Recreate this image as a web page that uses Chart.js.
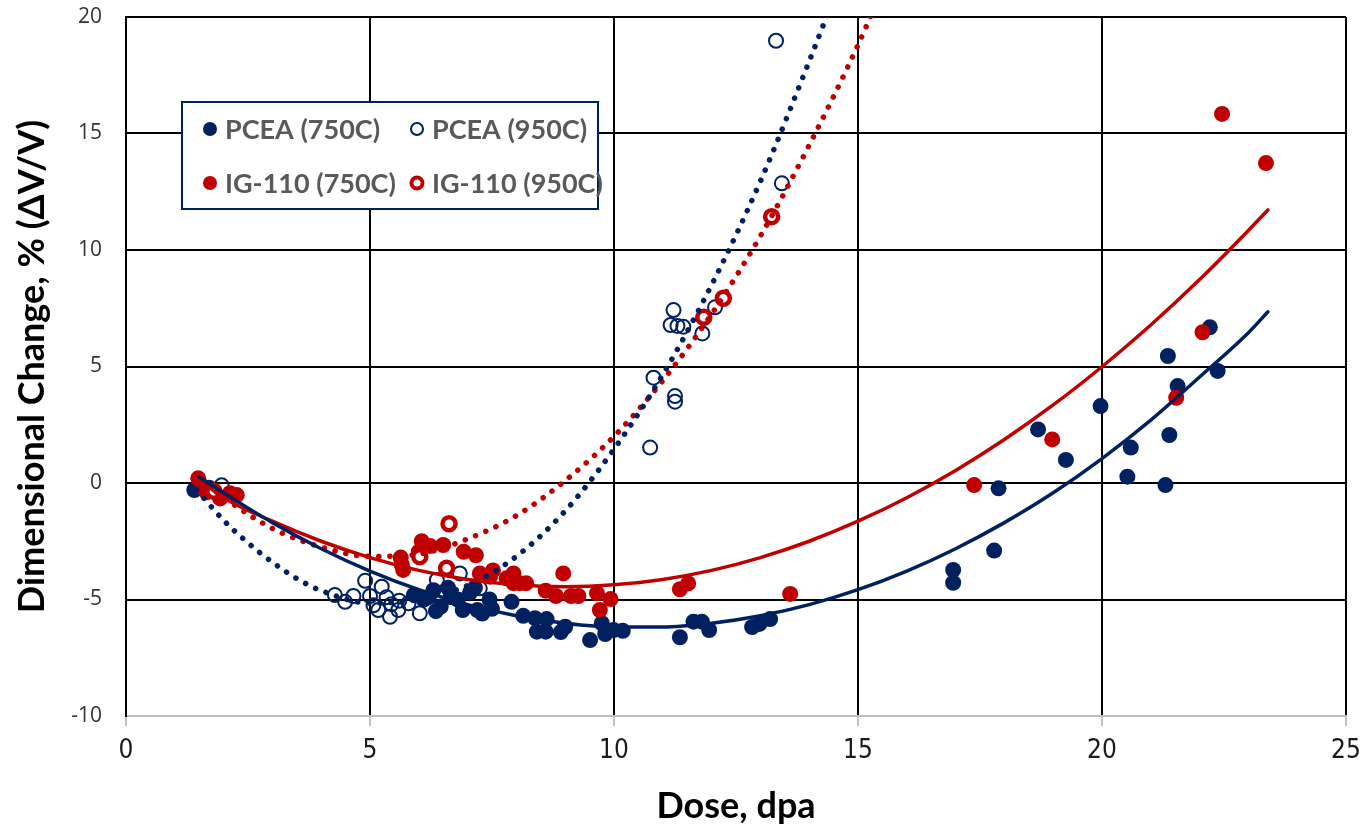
<!DOCTYPE html>
<html>
<head>
<meta charset="utf-8">
<title>Dimensional Change vs Dose</title>
<script src="https://cdn.jsdelivr.net/npm/chart.js@4.4.1/dist/chart.umd.min.js"></script>
<style>
  html, body { margin: 0; padding: 0; background: #fff; }
  #wrap { width: 1360px; height: 828px; }
</style>
</head>
<body>
<div id="wrap"><canvas id="graficoDim" width="1360" height="828"></canvas></div>
<script>
// ==================== DATA ====================
// [dose (dpa), dimensional change (%)]
const pcea750 = [
  [1.4, -0.3], [1.5, -0.1],
  [5.9, -4.8], [6.1, -5.0], [6.2, -4.9], [6.3, -4.6], [6.35, -5.5], [6.45, -5.3], [6.6, -4.5],
  [6.65, -4.9], [6.8, -5.0], [6.9, -5.45], [7.05, -4.7], [7.15, -4.5], [7.2, -5.45], [7.3, -5.6],
  [7.45, -5.0], [7.5, -5.4], [7.9, -5.1],
  [8.14, -5.7], [8.38, -5.8], [8.62, -5.84], [8.42, -6.38], [8.6, -6.38], [8.91, -6.4], [9.0, -6.17],
  [9.51, -6.74], [9.75, -6.02], [9.82, -6.48], [9.99, -6.31], [10.18, -6.34], [11.35, -6.62],
  [11.63, -5.95], [11.8, -5.95], [11.95, -6.31], [12.83, -6.18], [12.98, -6.05], [13.2, -5.84],
  [16.95, -3.73], [16.95, -4.28], [17.79, -2.9], [17.88, -0.23], [18.69, 2.3], [19.26, 0.99],
  [19.97, 3.3], [20.52, 0.27], [20.59, 1.52], [21.3, -0.09], [21.35, 5.45], [21.38, 2.06],
  [21.55, 4.16], [22.21, 6.68], [22.37, 4.81]
];
const pcea950 = [
  [1.7, -0.2], [1.96, -0.1],
  [4.28, -4.81], [4.49, -5.1], [4.66, -4.85], [4.9, -4.2], [5.0, -4.85], [5.07, -5.25], [5.17, -5.45],
  [5.24, -4.45], [5.34, -4.9], [5.41, -5.74], [5.44, -5.2], [5.58, -5.45], [5.6, -5.05], [5.79, -5.16],
  [6.02, -5.59], [6.37, -4.16], [6.84, -3.88], [7.25, -4.52],
  [10.74, 1.52], [10.81, 4.52], [11.16, 6.78], [11.22, 7.42], [11.25, 3.73], [11.25, 3.49],
  [11.3, 6.74], [11.42, 6.71], [11.81, 6.42], [12.07, 7.54], [13.32, 18.98], [13.44, 12.86]
];
const ig750 = [
  [1.48, 0.2], [1.58, -0.16], [1.65, -0.4], [1.79, -0.37], [1.93, -0.66], [2.13, -0.44], [2.27, -0.52],
  [5.63, -3.2], [5.65, -3.5], [5.68, -3.73], [6.0, -2.95], [6.06, -2.5], [6.23, -2.7], [6.5, -2.66],
  [6.92, -2.95], [7.17, -3.1], [7.25, -3.88], [7.46, -4.02], [7.52, -3.75], [7.8, -4.09], [7.87, -4.09],
  [7.94, -4.3], [7.94, -3.88], [8.07, -4.3], [8.2, -4.3],
  [8.6, -4.62], [8.81, -4.85], [8.96, -3.88], [9.12, -4.85], [9.27, -4.85], [9.65, -4.73], [9.71, -5.45],
  [9.93, -4.98], [11.35, -4.56], [11.52, -4.31], [13.61, -4.76],
  [17.38, -0.09], [18.98, 1.87], [21.52, 3.66], [22.06, 6.47], [22.46, 15.84], [23.36, 13.73]
];
const ig950 = [
  [1.8, -0.35], [6.02, -3.16], [6.57, -3.66], [6.62, -1.75], [11.84, 7.11], [12.24, 7.93], [13.23, 11.43]
];

// trend curves
const pcea750Trend = [
  [1.5, 0.25], [2, -0.42], [3, -1.7], [4, -2.82], [5, -3.78], [6, -4.58], [7, -5.22], [8, -5.7],
  [9, -6.02], [10, -6.18], [11, -6.18], [12, -6.02], [13, -5.7], [14, -5.22], [15, -4.58], [16, -3.78],
  [17, -2.82], [18, -1.7], [19, -0.42], [20, 1.05], [21, 2.7], [22, 4.55], [23, 6.45], [23.4, 7.35]
];
const ig750Trend = [
  [1.5, 0.15], [2, -0.63], [3, -1.64], [4, -2.5], [5, -3.2], [6, -3.75], [7, -4.14], [8, -4.37],
  [9, -4.45], [10, -4.37], [11, -4.14], [12, -3.75], [13, -3.2], [14, -2.5], [15, -1.64], [16, -0.63],
  [17, 0.54], [18, 1.87], [19, 3.35], [20, 4.99], [21, 6.78], [22, 8.73], [23, 10.84], [23.4, 11.72]
];
const pcea950Trend = [
  [1.45, -0.3], [2, -1.6], [2.5, -2.57], [3, -3.4], [3.5, -4.1], [4, -4.62], [5, -5.15], [6, -5.0],
  [7, -4.4], [8, -3.15], [9, -1.2], [10, 1.45], [11, 4.65], [12, 8.5], [13, 12.95], [14, 18.1], [14.5, 20.8]
];
const ig950Trend = [
  [1.5, 0.2], [2, -0.62], [3, -1.95], [4, -2.75], [5, -3.15], [6, -3.05], [7, -2.4], [8, -1.4],
  [9, 0.1], [10, 2.0], [11, 4.4], [12, 7.25], [13, 10.6], [14, 14.5], [15, 18.8], [15.5, 21.2]
];

const xTicks = [0, 5, 10, 15, 20, 25];
const yTicks = [-10, -5, 0, 5, 10, 15, 20];

const NAVY = '#002060';
const RED = '#C00000';

function toPts(arr) {
  return arr.map(p => ({ x: p[0], y: p[1] }));
}

// ==================== LEGEND (2 x 2 boxed) ====================
const leyendaPlugin = {
  id: 'leyenda',
  afterDatasetsDraw(chart) {
    const ctx = chart.ctx;
    const box = { x: 182, y: 102, w: 416, h: 107 };
    ctx.save();
    ctx.fillStyle = '#ffffff';
    ctx.fillRect(box.x, box.y, box.w, box.h);
    ctx.strokeStyle = NAVY;
    ctx.lineWidth = 2;
    ctx.strokeRect(box.x, box.y, box.w, box.h);

    const items = [
      { label: 'PCEA (750C)', x: 210, y: 129, fill: NAVY, stroke: NAVY, r: 7, bw: 0 },
      { label: 'PCEA (950C)', x: 417, y: 129, fill: '#ffffff', stroke: NAVY, r: 6, bw: 2 },
      { label: 'IG-110 (750C)', x: 210, y: 183, fill: RED, stroke: RED, r: 7, bw: 0 },
      { label: 'IG-110 (950C)', x: 417, y: 183, fill: '#ffffff', stroke: RED, r: 5.5, bw: 4 }
    ];
    ctx.font = 'bold 27px Lato, "Open Sans", sans-serif';
    ctx.textBaseline = 'middle';
    items.forEach(it => {
      ctx.beginPath();
      ctx.arc(it.x, it.y, it.r, 0, Math.PI * 2);
      ctx.fillStyle = it.fill;
      ctx.fill();
      if (it.bw > 0) {
        ctx.lineWidth = it.bw;
        ctx.strokeStyle = it.stroke;
        ctx.stroke();
      }
      ctx.fillStyle = '#595959';
      ctx.fillText(it.label, it.x + 15, it.y + 1);
    });
    ctx.restore();
  }
};

// ==================== DATASETS ====================
function puntos(label, data, color, relleno, radio, borde, orden) {
  return {
    type: 'scatter',
    label: label,
    data: toPts(data),
    pointRadius: radio,
    pointHoverRadius: radio,
    pointBackgroundColor: relleno,
    pointBorderColor: color,
    pointBorderWidth: borde,
    showLine: false,
    order: orden
  };
}

function tendencia(data, color, punteada) {
  return {
    type: 'line',
    data: toPts(data),
    borderColor: color,
    borderWidth: punteada ? 5.5 : 3.5,
    borderDash: punteada ? [0.1, 11] : [],
    borderCapStyle: 'round',
    cubicInterpolationMode: 'monotone',
    pointRadius: 0,
    fill: false,
    order: 0
  };
}

const datasets = [
  tendencia(pcea750Trend, NAVY, false),
  tendencia(ig750Trend, RED, false),
  tendencia(pcea950Trend, NAVY, true),
  tendencia(ig950Trend, RED, true),
  puntos('IG-110 (950C)', ig950, RED, '#ffffff', 6.5, 4.5, 1),
  puntos('IG-110 (750C)', ig750, RED, RED, 8, 0, 2),
  puntos('PCEA (950C)', pcea950, NAVY, 'rgba(255,255,255,0)', 7, 2, 3),
  puntos('PCEA (750C)', pcea750, NAVY, NAVY, 8, 0, 4)
];

// ==================== CHART ====================
const ctx = document.getElementById('graficoDim');
const graficoDim = new Chart(ctx, {
  type: 'scatter',
  data: { datasets: datasets },
  plugins: [leyendaPlugin],
  options: {
    responsive: false,
    animation: false,
    devicePixelRatio: 1,
    layout: { autoPadding: false, padding: { top: 17, right: 14, left: 0, bottom: 0 } },
    plugins: {
      legend: { display: false },
      tooltip: { enabled: false }
    },
    scales: {
      x: {
        type: 'linear',
        min: 0,
        max: 25,
        afterBuildTicks: axis => { axis.ticks = xTicks.map(v => ({ value: v })); },
        afterFit: axis => {
          axis.height = 112;
          axis.paddingLeft = 0;
          axis.paddingRight = 0;
        },
        grid: {
          color: '#000000',
          lineWidth: 2,
          drawTicks: true,
          tickLength: 10,
          tickColor: '#bfbfbf',
          tickWidth: 2
        },
        border: { display: true, color: '#bfbfbf', width: 2 },
        ticks: {
          padding: 10,
          color: '#1a1a1a',
          font: { family: '"Liberation Sans Narrow", "DejaVu Sans Condensed", sans-serif', size: 26 }
        },
        title: {
          display: true,
          text: 'Dose, dpa',
          color: '#000000',
          padding: { top: 0, bottom: 0 },
          font: { family: 'Lato, "Open Sans", sans-serif', size: 36, weight: 'bold' }
        }
      },
      y: {
        type: 'linear',
        min: -10,
        max: 20,
        afterBuildTicks: axis => { axis.ticks = yTicks.map(v => ({ value: v })); },
        afterFit: axis => {
          axis.width = 126;
          axis.paddingTop = 0;
          axis.paddingBottom = 0;
        },
        grid: {
          color: c => (c.tick && c.tick.value === -10) ? '#bfbfbf' : '#000000',
          lineWidth: 2,
          drawTicks: false
        },
        border: { display: true, color: '#000000', width: 2 },
        ticks: {
          padding: 24,
          color: '#333333',
          font: { family: '"Open Sans", sans-serif', size: 21 }
        },
        title: {
          display: true,
          text: 'Dimensional Change, % (\u0394V/V)',
          color: '#000000',
          padding: { top: 11, bottom: 0 },
          font: { family: 'Lato, "Open Sans", sans-serif', size: 36, weight: 'bold' }
        }
      }
    }
  }
});
</script>
</body>
</html>
